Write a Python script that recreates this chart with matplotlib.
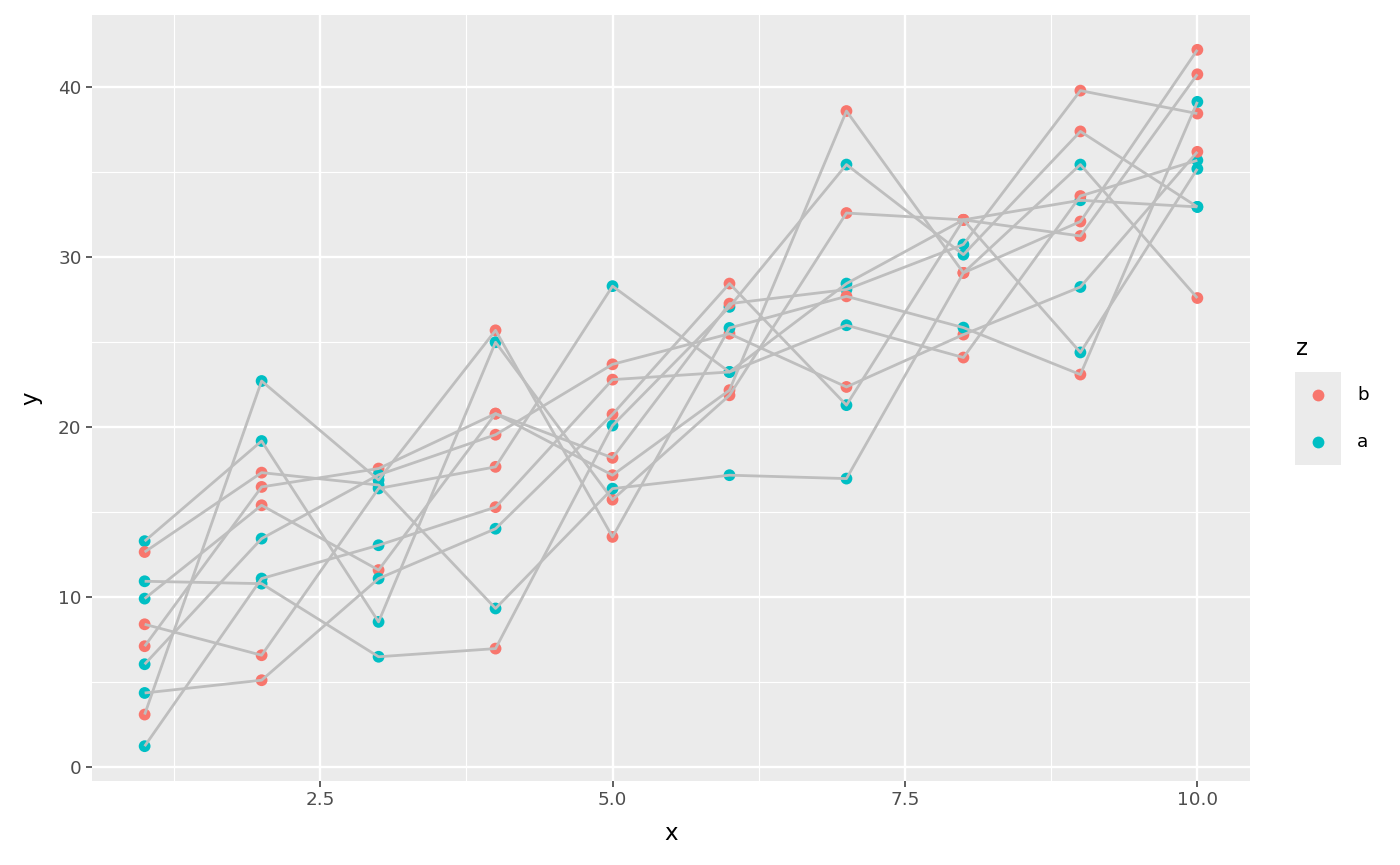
import matplotlib
matplotlib.use("Agg")
import matplotlib.pyplot as plt
from matplotlib.lines import Line2D
from matplotlib.patches import Rectangle

# ---- data -------------------------------------------------------------
x = [1, 2, 3, 4, 5, 6, 7, 8, 9, 10]

g01_y = [13.3, 19.19, 8.55, 25.0, 15.74, 21.88, 32.6, 32.2, 33.35, 32.96]
g01_z = ["a", "a", "a", "a", "b", "b", "b", "b", "a", "a"]
g02_y = [12.66, 17.33, 16.6, 9.34, 16.39, 17.18, 16.98, 29.08, 32.1, 42.2]
g02_z = ["b", "b", "a", "a", "a", "a", "a", "b", "b", "b"]
g03_y = [10.94, 10.8, 6.5, 6.98, 20.1, 27.08, 35.45, 30.15, 37.4, 32.96]
g03_z = ["a", "a", "a", "b", "a", "a", "a", "a", "b", "a"]
g04_y = [9.92, 15.41, 11.6, 20.8, 17.18, 22.18, 38.6, 29.08, 35.45, 27.6]
g04_z = ["a", "b", "b", "b", "b", "b", "b", "b", "a", "b"]
g05_y = [8.41, 6.59, 16.4, 17.67, 28.3, 23.25, 26.0, 24.1, 33.6, 35.7]
g05_z = ["b", "b", "a", "b", "a", "a", "a", "b", "b", "a"]
g06_y = [7.12, 16.49, 17.57, 20.8, 18.2, 27.27, 28.1, 30.75, 39.8, 38.45]
g06_z = ["b", "b", "b", "b", "b", "b", "a", "a", "b", "b"]
g07_y = [6.06, 13.45, 17.2, 19.56, 23.7, 25.5, 22.37, 25.45, 28.25, 36.2]
g07_z = ["a", "a", "a", "b", "b", "b", "b", "b", "a", "b"]
g08_y = [4.37, 5.12, 11.1, 14.03, 20.76, 28.45, 21.3, 32.2, 31.25, 40.76]
g08_z = ["a", "b", "a", "a", "b", "b", "a", "b", "b", "b"]
g09_y = [3.10, 22.72, 16.9, 25.7, 13.55, 25.84, 27.7, 25.86, 23.1, 39.14]
g09_z = ["b", "a", "a", "b", "b", "a", "b", "a", "b", "a"]
g10_y = [1.24, 11.1, 13.06, 15.3, 22.8, 23.25, 28.45, 32.2, 24.4, 35.2]
g10_z = ["a", "a", "a", "b", "b", "a", "a", "b", "a", "a"]

groups_y = [g01_y, g02_y, g03_y, g04_y, g05_y, g06_y, g07_y, g08_y, g09_y, g10_y]
groups_z = [g01_z, g02_z, g03_z, g04_z, g05_z, g06_z, g07_z, g08_z, g09_z, g10_z]

legend_levels = ["b", "a"]
palette = {"b": "#F8766D", "a": "#00BFC4"}

x_ticks = [2.5, 5.0, 7.5, 10.0]
x_tick_labels = ["2.5", "5.0", "7.5", "10.0"]
x_minor = [1.25, 3.75, 6.25, 8.75]
y_ticks = [0, 10, 20, 30, 40]
y_tick_labels = ["0", "10", "20", "30", "40"]
y_minor = [5, 15, 25, 35]

# ---- figure -----------------------------------------------------------
W, H = 1400, 865
fig = plt.figure(figsize=(W / 100, H / 100), dpi=100)
L, R, T, B = 92, 1250, 15, 781
ax = fig.add_axes([L / W, 1 - B / H, (R - L) / W, (B - T) / H])
ax.set_facecolor("#EBEBEB")
for s in ax.spines.values():
    s.set_visible(False)

for gy, gz in zip(groups_y, groups_z):
    ax.scatter(x, gy, c=[palette[z] for z in gz], s=72, linewidths=0, zorder=2)
    ax.plot(x, gy, color="#BEBEBE", lw=2.0, zorder=3, solid_capstyle="butt")

all_y = [v for g in groups_y for v in g]
xr = max(x) - min(x)
yr = max(all_y) - min(all_y)
ax.set_xlim(min(x) - 0.05 * xr, max(x) + 0.05 * xr)
ax.set_ylim(min(all_y) - 0.05 * yr, max(all_y) + 0.05 * yr)

ax.set_xticks(x_ticks)
ax.set_xticklabels(x_tick_labels)
ax.set_xticks(x_minor, minor=True)
ax.set_yticks(y_ticks)
ax.set_yticklabels(y_tick_labels)
ax.set_yticks(y_minor, minor=True)
ax.grid(which="major", color="white", lw=1.7, zorder=0)
ax.grid(which="minor", color="white", lw=0.85, zorder=0)
ax.set_axisbelow(True)
ax.tick_params(which="major", length=4.5, width=1.1, color="#333333",
               labelcolor="#4D4D4D", labelsize=13.2, pad=3)
ax.tick_params(which="minor", length=0)

ax.set_xlabel("x", fontsize=16.5, color="black", labelpad=9)
ax.set_ylabel("y", fontsize=16.5, color="black", labelpad=11)

# ---- legend (ggplot style) -------------------------------------------
fig.text(1296 / W, 1 - 355 / H, "z", fontsize=16.5, ha="left", va="baseline")
kx0, kx1, ky0, ky1 = 1295, 1341, 372, 465
fig.add_artist(Rectangle((kx0 / W, 1 - ky1 / H), (kx1 - kx0) / W, (ky1 - ky0) / H,
                         transform=fig.transFigure, facecolor="#EBEBEB",
                         edgecolor="none"))
key_h = (ky1 - ky0) / len(legend_levels)
for i, lev in enumerate(legend_levels):
    cy = ky0 + key_h * (i + 0.5)
    fig.add_artist(Line2D([(kx0 + kx1) / 2 / W], [1 - cy / H], marker="o",
                          markersize=8.5, markeredgewidth=0, linestyle="none",
                          color=palette[lev], transform=fig.transFigure))
    fig.text(1357 / W, 1 - cy / H, lev, fontsize=13.2, ha="left", va="center")

fig.savefig("out.png", dpi=100)
